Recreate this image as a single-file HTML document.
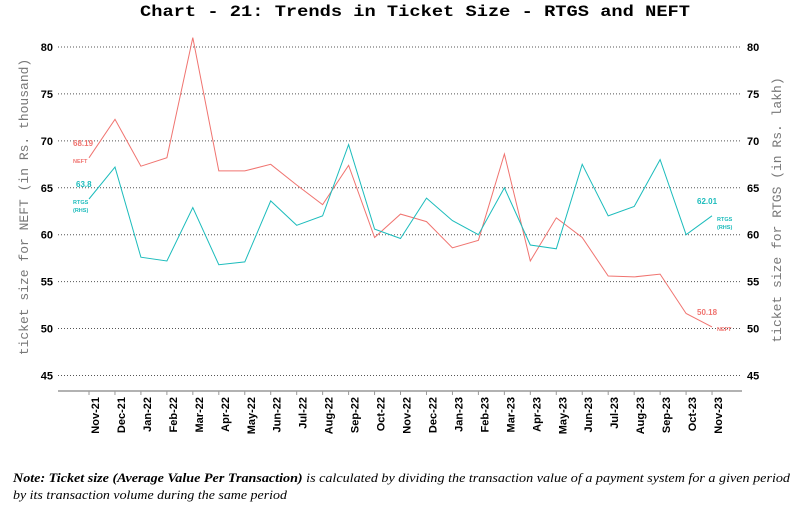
<!DOCTYPE html>
<html><head><meta charset="utf-8"><style>
body{margin:0;background:#fff;width:812px;height:512px;overflow:hidden}
svg{display:block}
</style></head><body>
<svg id="s" width="812" height="512" xmlns="http://www.w3.org/2000/svg">
<text x="140" y="16" textLength="550" lengthAdjust="spacingAndGlyphs" font-family="Liberation Mono, monospace" font-weight="bold" font-size="16">Chart - 21: Trends in Ticket Size - RTGS and NEFT</text>
<g id="grid"></g>
<line x1="58" y1="391" x2="742" y2="391" stroke="#999" stroke-width="1.5"/>
<g id="xl"></g>
<polyline id="neft" fill="none" stroke="#f07470" stroke-width="1"/>
<polyline id="rtgs" fill="none" stroke="#1cbcbc" stroke-width="1"/>
<text x="28" y="207" transform="rotate(-90 28 207)" text-anchor="middle" font-family="Liberation Mono, monospace" font-size="13" fill="#777">ticket size for NEFT (in Rs. thousand)</text>
<text x="781" y="210" transform="rotate(-90 781 210)" text-anchor="middle" font-family="Liberation Mono, monospace" font-size="13" fill="#777">ticket size for RTGS (in Rs. lakh)</text>
<g font-family="Liberation Sans, sans-serif" font-weight="bold">
<text x="73" y="146" font-size="8" fill="#f07470">68.19</text>
<text x="73" y="163" font-size="5.5" fill="#f07470">NEFT</text>
<text x="76" y="187" font-size="8" fill="#1cbcbc">63.8</text>
<text x="73" y="204" font-size="5.5" fill="#1cbcbc">RTGS</text>
<text x="73" y="212" font-size="5.5" fill="#1cbcbc">(RHS)</text>
<text x="697" y="204" font-size="8" fill="#1cbcbc">62.01</text>
<text x="717" y="221" font-size="5.5" fill="#1cbcbc">RTGS</text>
<text x="717" y="229" font-size="5.5" fill="#1cbcbc">(RHS)</text>
<text x="697" y="315" font-size="8" fill="#f07470">50.18</text>
<text x="717" y="331" font-size="5.5" fill="#f07470">NEFT</text>
</g>
<g font-family="Liberation Serif, serif" font-style="italic" font-weight="bold" font-size="12.5">
<text x="13" y="482" textLength="777" lengthAdjust="spacingAndGlyphs">Note: Ticket size (Average Value Per Transaction) <tspan font-weight="normal">is calculated by dividing the transaction value of a payment system for a given period</tspan></text>
<text x="13" y="499" font-weight="normal" textLength="274" lengthAdjust="spacingAndGlyphs">by its transaction volume during the same period</text>
</g>
</svg>
<script>
var ns="http://www.w3.org/2000/svg";
function Y(v){return 47+(80-v)*9.385;}
function X(i){return 89+i*25.96;}
var g=document.getElementById('grid');
for(var v=45;v<=80;v+=5){
 var l=document.createElementNS(ns,'line');l.setAttribute('x1',58);l.setAttribute('x2',742);l.setAttribute('y1',Y(v));l.setAttribute('y2',Y(v));
 l.setAttribute('stroke','#555');l.setAttribute('stroke-dasharray','1 2');g.appendChild(l);
 [[53,'end'],[747,'start']].forEach(function(p){var t=document.createElementNS(ns,'text');t.setAttribute('x',p[0]);t.setAttribute('y',Y(v)+4);t.setAttribute('text-anchor',p[1]);
 t.setAttribute('font-family','Liberation Sans, sans-serif');t.setAttribute('font-weight','bold');t.setAttribute('font-size','11');t.textContent=v;g.appendChild(t);});
}
var labs=["Nov-21","Dec-21","Jan-22","Feb-22","Mar-22","Apr-22","May-22","Jun-22","Jul-22","Aug-22","Sep-22","Oct-22","Nov-22","Dec-22","Jan-23","Feb-23","Mar-23","Apr-23","May-23","Jun-23","Jul-23","Aug-23","Sep-23","Oct-23","Nov-23"];
var xl=document.getElementById('xl');
labs.forEach(function(s,i){
 var x=X(i);var l=document.createElementNS(ns,'line');l.setAttribute('x1',x);l.setAttribute('x2',x);l.setAttribute('y1',391);l.setAttribute('y2',395);l.setAttribute('stroke','#999');xl.appendChild(l);
 var t=document.createElementNS(ns,'text');var tx=x+10,ty=397;t.setAttribute('x',tx);t.setAttribute('y',ty);t.setAttribute('text-anchor','end');
 t.setAttribute('transform','rotate(-90 '+tx+' '+ty+')');t.setAttribute('font-family','Liberation Sans, sans-serif');t.setAttribute('font-weight','bold');t.setAttribute('font-size','11');t.textContent=s;xl.appendChild(t);
});
var neft=[68.19,72.3,67.3,68.2,81,66.8,66.8,67.5,65.3,63.2,67.4,59.7,62.2,61.4,58.6,59.4,68.6,57.2,61.8,59.7,55.6,55.5,55.8,51.6,50.18];
var rtgs=[63.8,67.2,57.6,57.2,62.9,56.8,57.1,63.6,61.0,62.0,69.6,60.6,59.6,63.9,61.5,60.0,65.0,58.9,58.5,67.5,62.0,63.0,68.0,60.0,62.01];
function pts(a){return a.map(function(v,i){return X(i).toFixed(1)+','+Y(v).toFixed(1)}).join(' ');}
document.getElementById('neft').setAttribute('points',pts(neft));
document.getElementById('rtgs').setAttribute('points',pts(rtgs));
</script>
</body></html>
